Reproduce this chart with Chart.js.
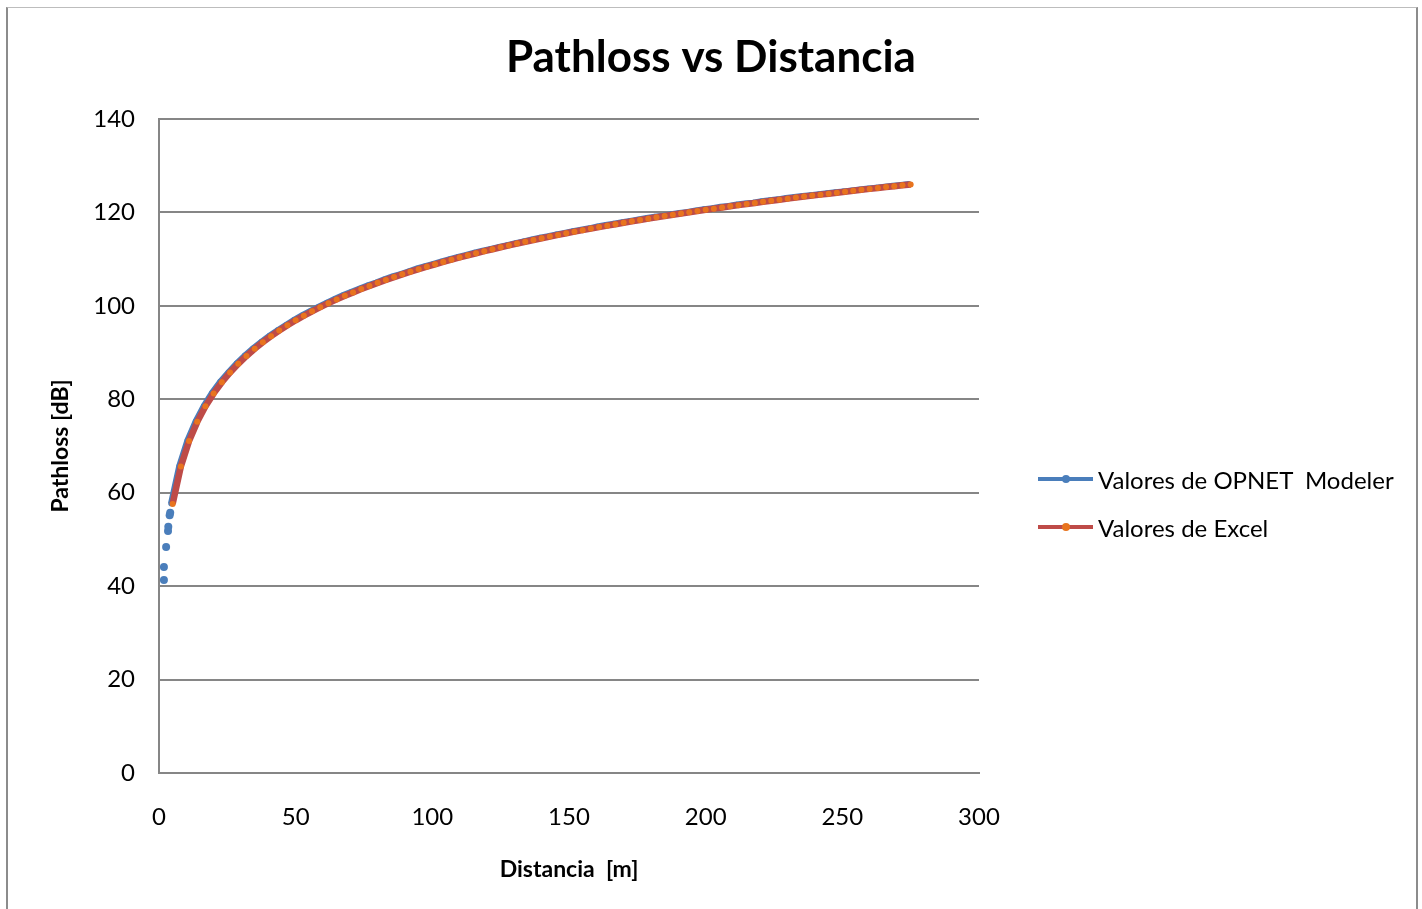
<!DOCTYPE html>
<html>
<head>
<meta charset="utf-8">
<script src="https://cdn.jsdelivr.net/npm/chart.js@4.4.1/dist/chart.umd.min.js"></script>
<style>
  html, body { margin: 0; padding: 0; background: #fff; }
  #wrap { position: relative; width: 1422px; height: 909px; overflow: hidden; background: #fff; }
  #c { position: absolute; left: 0; top: 0; }
  #frame { position: absolute; left: 6px; top: 7px; width: 1412px; height: 960px; box-sizing: border-box;
           border-left: 2px solid #8c8c8c; border-right: 2px solid #8c8c8c; border-top: 1px solid #bdbdbd; pointer-events: none; }
  .lg-item { position: absolute; left: 1038px; height: 30px; display: flex; align-items: center;
             font-family: Lato, sans-serif; font-size: 24px; color: #000; white-space: pre; }
  .lg-line { position: relative; width: 55px; height: 4px; margin-right: 5px; }
  .lg-dot { position: absolute; left: 24px; top: -2px; width: 8px; height: 8px; border-radius: 50%; }
</style>
</head>
<body>
<div id="wrap">
  <canvas id="c" width="1422" height="909"></canvas>
  <div id="legend"></div>
  <div id="frame"></div>
</div>
<script>
// ---- data ----
const chartTitle = 'Pathloss vs Distancia';
const xTitle = 'Distancia  [m]';
const yTitle = 'Pathloss [dB]';
const seriesNames = ['Valores de OPNET  Modeler', 'Valores de Excel'];
const xTicks = [0, 50, 100, 150, 200, 250, 300];
const yTicks = [0, 20, 40, 60, 80, 100, 120, 140];

// isolated OPNET samples close to the transmitter (drawn as separate dots)
const opnetNearDist = [1.8, 1.8, 2.6, 3.3, 3.4, 3.9, 4.1];
const opnetNearLoss = [41.3, 44.1, 48.4, 51.8, 52.7, 55.2, 55.7];

// continuous OPNET curve
const opnetDist = [
  4.4, 7.4, 10.4, 13.4, 16.4, 19.4, 22.4, 25.4, 28.4, 31.4,
  34.4, 37.4, 40.4, 43.4, 46.4, 49.4, 52.4, 55.4, 58.4, 61.4,
  64.4, 67.4, 70.4, 73.4, 76.4, 79.4, 82.4, 85.4, 88.4, 91.4,
  94.4, 97.4, 100.4, 103.4, 106.4, 109.4, 112.4, 115.4, 118.4, 121.4,
  124.4, 127.4, 130.4, 133.4, 136.4, 139.4, 142.4, 145.4, 148.4, 151.4,
  154.4, 157.4, 160.4, 163.4, 166.4, 169.4, 172.4, 175.4, 178.4, 181.4,
  184.4, 187.4, 190.4, 193.4, 196.4, 199.4, 202.4, 205.4, 208.4, 211.4,
  214.4, 217.4, 220.4, 223.4, 226.4, 229.4, 232.4, 235.4, 238.4, 241.4,
  244.4, 247.4, 250.4, 253.4, 256.4, 259.4, 262.4, 265.4, 268.4, 271.4,
  274.4
];
const opnetLoss = [
  57.7, 65.7, 71.2, 75.3, 78.6, 81.4, 83.8, 85.8, 87.7, 89.4,
  90.9, 92.3, 93.6, 94.8, 95.9, 97.0, 98.0, 98.9, 99.8, 100.7,
  101.5, 102.3, 103.0, 103.7, 104.4, 105.0, 105.7, 106.3, 106.8, 107.4,
  108.0, 108.5, 109.0, 109.5, 110.0, 110.5, 110.9, 111.4, 111.8, 112.2,
  112.6, 113.0, 113.4, 113.8, 114.2, 114.6, 114.9, 115.3, 115.6, 116.0,
  116.3, 116.6, 117.0, 117.3, 117.6, 117.9, 118.2, 118.5, 118.8, 119.1,
  119.3, 119.6, 119.9, 120.1, 120.4, 120.7, 120.9, 121.2, 121.4, 121.7,
  121.9, 122.1, 122.4, 122.6, 122.8, 123.1, 123.3, 123.5, 123.7, 123.9,
  124.1, 124.3, 124.5, 124.7, 124.9, 125.1, 125.3, 125.5, 125.7, 125.9,
  126.1
];

const excelDist = [
  5, 8, 11, 14, 17, 20, 23, 26, 29, 32,
  35, 38, 41, 44, 47, 50, 53, 56, 59, 62,
  65, 68, 71, 74, 77, 80, 83, 86, 89, 92,
  95, 98, 101, 104, 107, 110, 113, 116, 119, 122,
  125, 128, 131, 134, 137, 140, 143, 146, 149, 152,
  155, 158, 161, 164, 167, 170, 173, 176, 179, 182,
  185, 188, 191, 194, 197, 200, 203, 206, 209, 212,
  215, 218, 221, 224, 227, 230, 233, 236, 239, 242,
  245, 248, 251, 254, 257, 260, 263, 266, 269, 272,
  275
];
const excelLoss = [
  57.60, 65.62, 71.06, 75.17, 78.49, 81.26, 83.65, 85.74, 87.60, 89.28,
  90.81, 92.22, 93.51, 94.72, 95.84, 96.90, 97.89, 98.83, 99.72, 100.57,
  101.38, 102.15, 102.88, 103.59, 104.27, 104.92, 105.55, 106.16, 106.74, 107.31,
  107.85, 108.39, 108.90, 109.40, 109.88, 110.36, 110.82, 111.26, 111.70, 112.12,
  112.54, 112.94, 113.34, 113.73, 114.10, 114.47, 114.83, 115.19, 115.54, 115.88,
  116.21, 116.54, 116.86, 117.17, 117.48, 117.79, 118.09, 118.38, 118.67, 118.95,
  119.23, 119.50, 119.77, 120.04, 120.30, 120.56, 120.81, 121.07, 121.31, 121.56,
  121.79, 122.03, 122.26, 122.50, 122.72, 122.95, 123.17, 123.39, 123.60, 123.81,
  124.02, 124.23, 124.44, 124.64, 124.84, 125.04, 125.23, 125.43, 125.62, 125.81,
  126.00
];

// ---- build datasets ----
const opnetData = [];
opnetNearDist.forEach((d, i) => {
  opnetData.push({ x: d, y: opnetNearLoss[i] });
  opnetData.push({ x: d, y: null }); // break: these samples are not joined
});
const nearCount = opnetData.length;
opnetDist.forEach((d, i) => opnetData.push({ x: d, y: opnetLoss[i] }));
const excelData = excelDist.map((d, i) => ({ x: d, y: excelLoss[i] }));

const BLUE = '#4A7EBB';
const RED = '#BE4B48';
const ORANGE = '#E8741E';
const GRID = '#868686';
const FONT = 'Lato';

function start() {
  const chart = new Chart(document.getElementById('c'), {
    type: 'line',
    data: {
      datasets: [
        {
          label: seriesNames[0], data: opnetData, order: 2,
          borderColor: BLUE, borderWidth: 6, tension: 0, spanGaps: false,
          pointRadius: c => (c.dataIndex < nearCount ? 4 : 2.8),
          pointBackgroundColor: BLUE, pointBorderWidth: 0, pointHoverRadius: 3
        },
        {
          label: seriesNames[1], data: excelData, order: 1,
          borderColor: RED, borderWidth: 6.5, tension: 0,
          pointRadius: 3, pointBackgroundColor: ORANGE, pointBorderWidth: 0, pointHoverRadius: 3
        }
      ]
    },
    options: {
      responsive: false,
      animation: false,
      devicePixelRatio: 1,
      layout: { padding: 0 },
      plugins: {
        legend: { display: false },
        tooltip: { enabled: false },
        title: {
          display: true, text: chartTitle, color: '#000',
          font: { family: FONT, size: 44, weight: 'bold' },
          padding: { top: 31, bottom: 35.2 }
        }
      },
      scales: {
        x: {
          type: 'linear', min: 0, max: 300,
          afterBuildTicks: s => { s.ticks = xTicks.map(v => ({ value: v })); },
          grid: { display: false, drawTicks: false },
          border: { display: true, color: GRID, width: 2 },
          ticks: { color: '#000', font: { family: FONT, size: 24 }, padding: 30, maxRotation: 0, autoSkip: false },
          title: { display: true, text: xTitle, color: '#000', font: { family: FONT, size: 23, weight: 'bold' }, padding: { top: 0, bottom: 26 } },
          afterFit: s => { s.height = 136; }
        },
        y: {
          type: 'linear', min: 0, max: 140,
          afterBuildTicks: s => { s.ticks = yTicks.map(v => ({ value: v })); },
          grid: { color: GRID, lineWidth: 2, drawTicks: false },
          border: { display: true, color: GRID, width: 2 },
          ticks: { color: '#000', font: { family: FONT, size: 24 }, padding: 24 },
          title: { display: true, text: yTitle, color: '#000', font: { family: FONT, size: 23, weight: 'bold' }, padding: { top: 47, bottom: 0 } },
          afterFit: s => { s.width = 159; }
        },
        // empty right-hand box that reserves the room where the legend sits
        legendSpace: {
          type: 'linear', position: 'right', display: true,
          grid: { display: false, drawTicks: false },
          border: { display: false },
          ticks: { display: false },
          afterFit: s => { s.width = 1422 - 979; }
        }
      }
    }
  });

  // HTML legend built from the chart's datasets
  const legendEl = document.getElementById('legend');
  chart.data.datasets.forEach((ds, i) => {
    const item = document.createElement('div');
    item.className = 'lg-item';
    item.style.top = (479 + 48 * i - 15) + 'px';
    const line = document.createElement('span');
    line.className = 'lg-line';
    line.style.background = ds.borderColor;
    const dot = document.createElement('span');
    dot.className = 'lg-dot';
    dot.style.background = ds.pointBackgroundColor;
    line.appendChild(dot);
    const txt = document.createElement('span');
    txt.textContent = ds.label;
    item.appendChild(line);
    item.appendChild(txt);
    legendEl.appendChild(item);
  });
}

Promise.all([
  document.fonts.load('24px Lato'),
  document.fonts.load('bold 44px Lato')
]).then(start, start);
</script>
</body>
</html>
